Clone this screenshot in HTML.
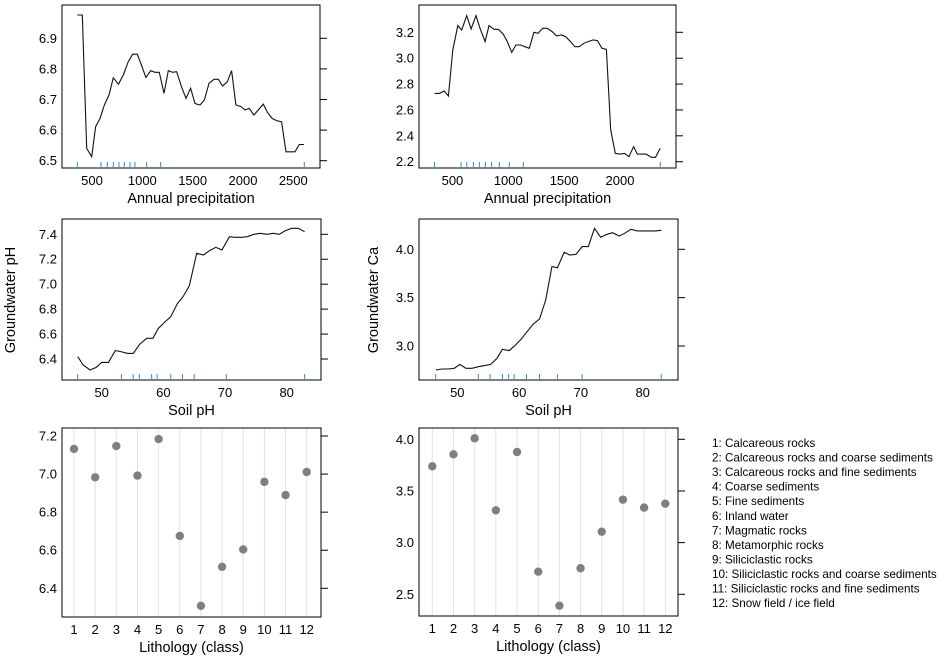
<!DOCTYPE html>
<html><head><meta charset="utf-8"><style>
html,body{margin:0;padding:0;background:#fff;}
svg{display:block;font-family:"Liberation Sans",Arial,sans-serif;}
</style></head><body>
<svg id="chart" width="948" height="656" viewBox="0 0 948 656" xmlns="http://www.w3.org/2000/svg"></svg>
<script>
// ---- data ----
const precipPhX = [354,404,447,497,536,579,623,669,712,762,811,861,904,950,993,1036,1083,1126,1169,1215,1258,1301,1341,1391,1434,1480,1523,1573,1616,1662,1712,1755,1798,1844,1887,1930,1977,2020,2063,2109,2152,2202,2245,2291,2334,2384,2427,2474,2517,2560,2606];
const precipPhY = [6.976,6.976,6.540,6.513,6.611,6.638,6.682,6.715,6.771,6.750,6.780,6.824,6.848,6.848,6.811,6.772,6.794,6.789,6.789,6.720,6.794,6.789,6.791,6.740,6.704,6.737,6.687,6.682,6.698,6.753,6.766,6.766,6.744,6.758,6.794,6.682,6.677,6.666,6.671,6.649,6.666,6.685,6.657,6.638,6.631,6.627,6.529,6.529,6.529,6.553,6.553];
const precipPhRug = [354,589,652,712,768,821,877,927,1043,1182,2609];

const precipCaX = [339,384,426,464,503,548,583,628,667,711,747,792,827,872,911,955,991,1030,1068,1110,1149,1188,1229,1268,1307,1348,1393,1432,1476,1515,1557,1596,1635,1676,1714,1759,1798,1839,1878,1917,1958,1997,2042,2080,2122,2155,2199,2235,2280,2318,2360];
const precipCaY = [2.728,2.728,2.746,2.708,3.063,3.252,3.218,3.329,3.226,3.329,3.231,3.128,3.252,3.223,3.223,3.185,3.128,3.045,3.102,3.102,3.089,3.076,3.200,3.192,3.231,3.231,3.205,3.172,3.179,3.166,3.128,3.089,3.089,3.115,3.128,3.141,3.136,3.076,3.069,2.445,2.264,2.259,2.264,2.239,2.316,2.259,2.259,2.259,2.234,2.234,2.303];
const precipCaRug = [339,577,628,688,741,795,851,920,1009,1134,2360];

const soilPhX = [46.1,47.0,48.1,49.1,50.0,51.1,52.2,53.1,54.2,55.1,56.2,57.3,58.3,59.2,60.3,61.2,62.3,63.2,64.2,65.4,66.5,67.5,68.5,69.5,70.7,71.6,72.7,73.6,74.7,75.7,76.8,77.8,78.8,79.7,80.8,81.9,82.9];
const soilPhY = [6.419,6.352,6.312,6.333,6.373,6.373,6.467,6.459,6.445,6.445,6.520,6.566,6.566,6.646,6.700,6.740,6.846,6.900,6.986,7.248,7.234,7.269,7.296,7.274,7.381,7.376,7.376,7.381,7.400,7.408,7.400,7.408,7.400,7.427,7.448,7.448,7.421];
const soilPhRug = [46.1,53.2,55.1,56.1,58.1,59.0,61.2,63.1,65.0,70.2,82.9];

const soilCaX = [46.5,47.5,48.5,49.5,50.4,51.4,52.4,53.4,54.4,55.4,56.4,57.3,58.4,59.3,60.3,61.3,62.3,63.3,64.3,65.3,66.2,67.3,68.2,69.2,70.2,71.2,72.2,73.2,74.2,75.1,76.2,77.1,78.1,79.1,80.1,81.1,82.1,83.0];
const soilCaY = [2.752,2.762,2.762,2.769,2.810,2.769,2.769,2.786,2.797,2.810,2.872,2.966,2.952,3.003,3.069,3.148,3.228,3.279,3.476,3.821,3.810,3.969,3.941,3.948,4.028,4.028,4.217,4.124,4.155,4.172,4.138,4.166,4.207,4.190,4.190,4.190,4.190,4.197];
const soilCaRug = [46.5,53.4,55.3,57.3,58.3,59.2,61.2,63.3,66.2,70.2,83.0];

const lithClasses = [1,2,3,4,5,6,7,8,9,10,11,12];
const lithPh = [7.132,6.983,7.147,6.992,7.184,6.675,6.308,6.513,6.604,6.959,6.890,7.011];
const lithCa = [3.739,3.855,4.010,3.313,3.877,2.719,2.390,2.752,3.106,3.416,3.339,3.377];
const lithNames = ["1: Calcareous rocks","2: Calcareous rocks and coarse sediments","3: Calcareous rocks and fine sediments","4: Coarse sediments","5: Fine sediments","6: Inland water","7: Magmatic rocks","8: Metamorphic rocks","9: Siliciclastic rocks","10: Siliciclastic rocks and coarse sediments","11: Siliciclastic rocks and fine sediments","12: Snow field / ice field"];

const tickPrecip1 = [500,1000,1500,2000,2500];
const tickPrecip2 = [500,1000,1500,2000];
const tickSoil = [50,60,70,80];
const yTicks1 = [6.5,6.6,6.7,6.8,6.9];
const yTicks2 = [2.2,2.4,2.6,2.8,3.0,3.2];
const yTicks3 = [6.4,6.6,6.8,7.0,7.2,7.4];
const yTicks4 = [3.0,3.5,4.0];
const yTicks5 = [6.4,6.6,6.8,7.0,7.2];
const yTicks6 = [2.5,3.0,3.5,4.0];

// ---- rendering ----
const NS = "http://www.w3.org/2000/svg";
const svg = document.getElementById("chart");
function mk(tag, attrs, parent){
  const e = document.createElementNS(NS, tag);
  for (const k in attrs) e.setAttribute(k, attrs[k]);
  (parent||svg).appendChild(e);
  return e;
}
function lin(d0,d1,r0,r1){ return v => r0 + (v-d0)/(d1-d0)*(r1-r0); }

function panel(cfg){
  const g = mk("g", {});
  
  
  const [x0,y0,x1,y1] = cfg.box;
  const sx = lin(cfg.xd[0],cfg.xd[1],cfg.xr[0],cfg.xr[1]);
  const sy = lin(cfg.yd[0],cfg.yd[1],cfg.yr[0],cfg.yr[1]);
  if (cfg.cats){
    cfg.cats.forEach(c=>{
      const l = mk("line",{x1:sx(c),x2:sx(c),y1:y0,y2:y1,stroke:"#e3e3e3","stroke-width":1},g);
      
      
    });
  }
  const r = mk("rect",{x:x0,y:y0,width:x1-x0,height:y1-y0,fill:"none",stroke:"#000","stroke-width":1},g);
  
  
  cfg.yt.forEach(v=>{
    const y = sy(v);
    const t = mk("line",{x1:x1,x2:x1+7,y1:y,y2:y,stroke:"#000","stroke-width":1},g);
    
    
    const tx = mk("text",{x:x0-5,y:y+4.5,"text-anchor":"end","font-size":"13px",fill:"#000"},g);
    tx.textContent = v.toFixed(1);
    
    
  });
  cfg.xt.forEach(v=>{
    const tx = mk("text",{x:sx(v),y:y1+17,"text-anchor":"middle","font-size":"13px",fill:"#000"},g);
    tx.textContent = String(v);
    
    
  });
  const title = mk("text",{x:(x0+x1)/2,y:y1+35,"text-anchor":"middle","font-size":"14.5px",fill:"#000"},g);
  title.textContent = cfg.xlabel;
  
  
  if (cfg.lx){
    const pts = cfg.lx.map((v,i)=>sx(v).toFixed(1)+","+sy(cfg.ly[i]).toFixed(1)).join(" ");
    const pl = mk("polyline",{points:pts,fill:"none",stroke:"#111","stroke-width":1.1},g);
    
    
  }
  if (cfg.rug){
    cfg.rug.forEach(v=>{
      const l = mk("line",{x1:sx(v),x2:sx(v),y1:y1-6,y2:y1-1,stroke:"#1f8fdf","stroke-width":1},g);
      
      
    });
  }
  if (cfg.cats){
    cfg.cats.forEach((c,i)=>{
      const p = mk("circle",{cx:sx(c),cy:sy(cfg.pv[i]),r:4.2,fill:"#7f7f7f"},g);
      
      
    });
  }
}

panel({name:"panel-precip-ph",box:[62,5,320,168],xd:[500,2500],xr:[92,293.3],yd:[6.5,6.9],yr:[160.7,38.3],yt:yTicks1,xt:tickPrecip1,xlabel:"Annual precipitation",lx:precipPhX,ly:precipPhY,rug:precipPhRug});
panel({name:"panel-precip-ca",box:[419,5,676,168],xd:[1000,2000],xr:[508.3,620],yd:[2.2,3.2],yr:[161.7,32.3],yt:yTicks2,xt:tickPrecip2,xlabel:"Annual precipitation",lx:precipCaX,ly:precipCaY,rug:precipCaRug});
panel({name:"panel-soil-ph",box:[62,219,321,380],xd:[50,80],xr:[101.7,286.7],yd:[6.4,7.4],yr:[359,234.3],yt:yTicks3,xt:tickSoil,xlabel:"Soil pH",lx:soilPhX,ly:soilPhY,rug:soilPhRug});
panel({name:"panel-soil-ca",box:[419,219,678,380],xd:[50,80],xr:[457.3,642.7],yd:[3.0,4.0],yr:[346,249.3],yt:yTicks4,xt:tickSoil,xlabel:"Soil pH",lx:soilCaX,ly:soilCaY,rug:soilCaRug});
panel({name:"panel-lith-ph",box:[62,428,321,617],xd:[1,12],xr:[74,306.7],yd:[6.4,7.2],yr:[588.3,436],yt:yTicks5,xt:lithClasses,xlabel:"Lithology (class)",cats:lithClasses,pv:lithPh});
panel({name:"panel-lith-ca",box:[419,428,678,616],xd:[1,12],xr:[432.3,665.3],yd:[2.5,4.0],yr:[594.3,439.3],yt:yTicks6,xt:lithClasses,xlabel:"Lithology (class)",cats:lithClasses,pv:lithCa});

// y axis titles
const yt1 = mk("text",{x:0,y:0,transform:"translate(15,300) rotate(-90)","text-anchor":"middle","font-size":"14.5px",fill:"#000"});
yt1.textContent = "Groundwater  pH";


const yt2 = mk("text",{x:0,y:0,transform:"translate(378,300) rotate(-90)","text-anchor":"middle","font-size":"14.5px",fill:"#000"});
yt2.textContent = "Groundwater  Ca";



// legend
const lg = mk("g",{});


lithNames.forEach((n,i)=>{
  const t = mk("text",{x:712,y:447+i*14.55,"font-size":"11.7px",fill:"#000"},lg);
  t.textContent = n;
  
  
});
</script>
</body></html>
